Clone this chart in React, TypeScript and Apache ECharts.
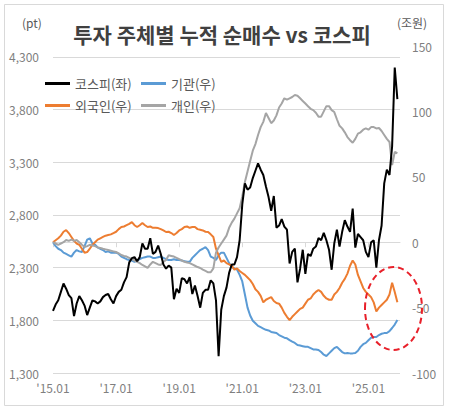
import React, { useEffect, useRef } from 'react';
import * as echarts from 'echarts';

// Month labels: 2015.01 .. 2026.01 (last slot is empty, marks the axis end)
const firstYear = 2015;
const lastYear = 2025;
const monthLabels: string[] = [];
for (let y = firstYear; y <= lastYear; y++) {
  for (let m = 1; m <= 12; m++) {
    monthLabels.push(`'${String(y % 100).padStart(2, '0')}.${String(m).padStart(2, '0')}`);
  }
}
monthLabels.push("'26.01");

// KOSPI (left axis, pt) – monthly readings
const kospi = [
  1890, 1950, 1990, 2070, 2150, 2100, 2040, 2010, 1840, 1960, 2030, 1990, // 2015
  1940, 1850, 1920, 1990, 1980, 1960, 1980, 2020, 2040, 2050, 2000, 1960, // 2016
  2030, 2070, 2090, 2160, 2210, 2350, 2390, 2400, 2360, 2400, 2530, 2480, // 2017
  2480, 2580, 2430, 2450, 2510, 2430, 2330, 2290, 2320, 2300, 2000, 2100, // 2018
  2060, 2200, 2190, 2150, 2210, 2050, 2130, 2030, 1920, 2060, 2090, 2090, // 2019
  2180, 2150, 1990, 1460, 1900, 2030, 2110, 2250, 2330, 2330, 2400, 2560, // 2020
  2900, 3100, 3040, 3060, 3150, 3220, 3290, 3230, 3180, 3070, 2970, 2840, // 2021
  2980, 2680, 2700, 2760, 2690, 2660, 2340, 2450, 2480, 2160, 2290, 2470, // 2022
  2240, 2430, 2410, 2480, 2500, 2580, 2560, 2630, 2560, 2470, 2280, 2530, // 2023
  2660, 2500, 2640, 2750, 2690, 2640, 2860, 2490, 2620, 2590, 2560, 2450, // 2024
  2400, 2540, 2560, 2300, 2560, 2700, 3100, 3230, 3180, 3450, 4200, 3900, // 2025
];

// Cumulative net buying (right axis, trillion won)
const institution = [
  0, -3, -5, -6, -8, -9, -10, -11, -8, -6, -7, -7.5,
  -3, 2, 3, -1, -2, -4, -5, -6, -7.5, -7, -8, -8,
  -8, -9, -11, -12, -13, -13.6, -14, -15, -14, -13, -12, -11.5,
  -11, -11, -12, -12, -11.5, -11, -12, -13, -13.6, -13.6, -13, -13.6,
  -13.6, -14, -14.5, -15, -15, -12, -10, -8, -6, -5, -3.7, -6,
  -11, -12, -13.6, -10, -8, -8, -12, -16, -19, -20, -21, -25,
  -30, -40, -50, -56, -60, -62, -64, -65, -66, -67, -67.5, -68.6,
  -69, -69.4, -71, -72, -73, -73.5, -74.8, -76, -77, -78.6, -79, -79.5,
  -80, -80, -81, -82, -82, -82.4, -84, -86, -87, -85, -83, -81,
  -80, -82, -84, -85, -84.7, -85, -85, -84.7, -83, -80, -78, -77,
  -75, -73, -72.5, -72.5, -71, -70, -69.5, -69.4, -68, -65.6, -63, -59.5,
];

const foreigner = [
  0, 1.5, 3, 5, 8, 9.3, 7, 4, 1, -1, -2, -5,
  -8, -7.5, -5, -2, 0, 2, 3, 4, 5, 5.5, 6, 7,
  8, 10, 11.6, 12, 13, 14, 15.4, 13, 11.6, 13, 14.7, 13,
  11.6, 12, 11, 11, 10.8, 10, 9, 7.8, 8, 7, 5.5, 7,
  9, 10, 11.6, 12, 11, 11.6, 11.6, 10, 9.5, 9, 8, 7.8,
  6, 4, -5, -10, -15, -14, -16, -17, -18, -21, -20, -22,
  -23.5, -25, -27, -29, -32, -36, -38, -41, -46, -44, -43, -42,
  -45, -46.5, -47, -50, -54, -57, -59.5, -57, -55, -53, -51, -50,
  -47, -44, -43, -40, -38, -36.5, -38, -41, -43, -44, -44, -40,
  -38, -35, -31, -28, -24, -18, -14, -17, -25, -30, -35, -38,
  -40, -42, -46, -53, -50, -48, -46, -44, -40, -31, -38, -46,
];

const individual = [
  0, -1, -2, -1, 0, 1.7, 1, 2, 1, 1.7, 0, -2,
  -3.7, -3, -2, -2.5, -3, -4, -4.4, -5, -5.5, -6, -6.5, -7,
  -7.5, -8.5, -9.8, -10.5, -11, -12, -13, -14, -15, -16, -17.4, -18.5,
  -19.7, -17, -15, -16, -17, -17.4, -15, -13.6, -10, -10.5, -11, -12,
  -13, -14, -15, -15.5, -16, -17, -18, -19, -19.7, -21, -22, -23,
  -23, -20, -8, -4, -1, 2, 5, 11, 15, 18, 22, 26,
  35, 46, 54, 62, 70, 75, 82, 88, 92, 98.8, 95, 91,
  93, 97, 103, 106, 110, 109, 110, 111, 112.5, 112, 110, 108,
  106, 104, 102, 101, 99, 96, 96, 100, 104, 104, 101, 99.5,
  94, 89, 87, 84, 80.4, 78, 76, 79, 83, 84, 86, 87,
  86, 88, 88, 87, 87.3, 85, 82, 79, 76.6, 59, 69, 68,
];

const seriesNames = ['코스피(좌)', '기관(우)', '외국인(우)', '개인(우)'];
const seriesColors = ['#000000', '#5b9bd5', '#ed7d31', '#a5a5a5'];

const leftTicks = { min: 1300, top: 4404, step: 500 };
const rightTicks = { min: -100, max: 150, step: 50 };

const FONT = '"Noto Sans CJK KR", "Noto Sans", sans-serif';

export default function App() {
  const ref = useRef<HTMLDivElement>(null);

  useEffect(() => {
    if (!ref.current) return;
    const chart = echarts.init(ref.current, undefined, { renderer: 'svg' });
    const labelColor = '#7f7f7f';
    const legendPos = [
      { left: 45, top: 77 },
      { left: 141, top: 77 },
      { left: 45, top: 99 },
      { left: 141, top: 99 },
    ];
    const dataSets = [kospi, institution, foreigner, individual];

    chart.setOption({
      animation: false,
      backgroundColor: '#ffffff',
      grid: { left: 53, right: 50, top: 46, bottom: 38, containLabel: false },
      legend: seriesNames.map((n, i) => ({
        data: [n],
        left: legendPos[i].left,
        top: legendPos[i].top,
        icon: 'rect',
        itemWidth: 25,
        itemHeight: 3,
        selectedMode: false,
        padding: 0,
        textStyle: { color: '#595959', fontSize: 13, fontFamily: FONT },
      })),
      xAxis: {
        type: 'category',
        data: monthLabels,
        boundaryGap: false,
        axisLine: { show: true, lineStyle: { color: '#d9d9d9', width: 1 } },
        axisTick: {
          show: true,
          interval: (i: number) => i % 24 === 0,
          length: 5,
          lineStyle: { color: '#d9d9d9' },
        },
        axisLabel: {
          interval: (i: number) => i % 24 === 0,
          color: labelColor,
          fontSize: 12,
          fontFamily: FONT,
          margin: 8,
        },
        splitLine: { show: false },
      },
      yAxis: [
        {
          type: 'value',
          position: 'left',
          min: leftTicks.min,
          max: leftTicks.top,
          interval: leftTicks.step,
          axisLine: { show: false },
          axisTick: { show: false },
          axisLabel: {
            showMaxLabel: false,
            color: labelColor,
            fontSize: 12,
            fontFamily: FONT,
            margin: 14,
            formatter: (v: number) => Math.round(v).toLocaleString('en-US'),
          },
          splitLine: {
            show: true,
            showMaxLine: false,
            lineStyle: { color: '#d9d9d9', width: 1 },
          },
        },
        {
          type: 'value',
          position: 'right',
          min: rightTicks.min,
          max: rightTicks.max,
          interval: rightTicks.step,
          axisLine: { show: false },
          axisTick: { show: false },
          axisLabel: {
            color: labelColor,
            fontSize: 12,
            fontFamily: FONT,
            margin: 12,
          },
          splitLine: { show: false },
        },
      ],
      series: seriesNames.map((n, i) => ({
        name: n,
        type: 'line',
        yAxisIndex: i === 0 ? 0 : 1,
        data: dataSets[i],
        symbol: 'none',
        showSymbol: false,
        z: i === 0 ? 5 : 2 + (i === 3 ? 0.5 : 0),
        lineStyle: { color: seriesColors[i], width: 2 },
        itemStyle: { color: seriesColors[i] },
      })),
      graphic: [
        {
          type: 'rect',
          z: -1,
          silent: true,
          shape: { x: 4.5, y: 4.5, width: 439, height: 401 },
          style: { fill: 'none', stroke: '#d9d9d9', lineWidth: 1 },
        },
        {
          type: 'text',
          silent: true,
          style: {
            text: '투자 주체별 누적 순매수 vs 코스피',
            x: 222,
            y: 34,
            align: 'center',
            verticalAlign: 'middle',
            fill: '#404040',
            font: `bold 21px ${FONT}`,
          },
        },
        {
          type: 'text',
          silent: true,
          style: {
            text: '(pt)',
            x: 32,
            y: 22,
            align: 'center',
            verticalAlign: 'middle',
            fill: '#595959',
            font: `12px ${FONT}`,
          },
        },
        {
          type: 'text',
          silent: true,
          style: {
            text: '(조원)',
            x: 412,
            y: 22,
            align: 'center',
            verticalAlign: 'middle',
            fill: '#595959',
            font: `12px ${FONT}`,
          },
        },
        {
          type: 'ellipse',
          silent: true,
          z: 100,
          shape: { cx: 393.5, cy: 308.5, rx: 28.5, ry: 41.5 },
          style: { fill: 'none', stroke: '#e8202a', lineWidth: 2, lineDash: [6, 4] },
        },
      ],
    });

    return () => chart.dispose();
  }, []);

  return (
    <div
      ref={ref}
      style={{ position: 'absolute', left: 0, top: 0, width: 450, height: 411, background: '#fff' }}
    />
  );
}
